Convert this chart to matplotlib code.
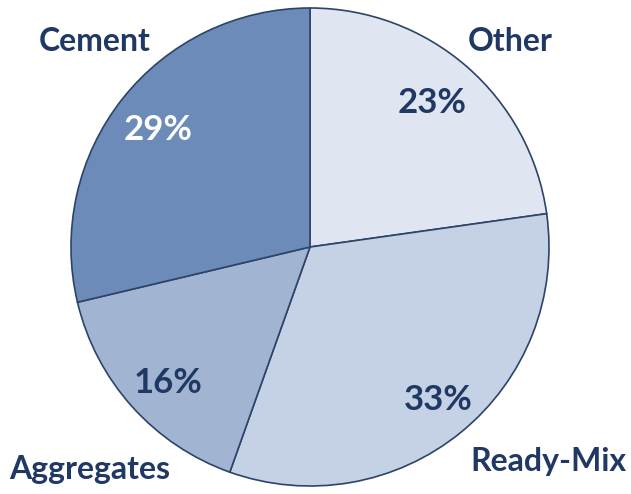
import matplotlib.pyplot as plt

categories = ['Other', 'Ready-Mix', 'Aggregates', 'Cement']
shares = [23, 33, 16, 29]
colors = ['#dfe6f1', '#c5d1e4', '#a1b4d2', '#6c8bb8']
pct_colors = ['#1f3864', '#1f3864', '#1f3864', 'white']

# label and percentage positions (pixels, y up)
label_pos = [(510, 452), (548, 32), (90, 24), (95, 452)]
pct_pos = [(432, 391), (438, 94), (168, 111), (158, 364)]

plt.rcParams['font.family'] = ['Lato', 'DejaVu Sans']

fig = plt.figure(figsize=(6.31, 4.94), dpi=100)
ax = fig.add_axes([0, 0, 1, 1])

ax.pie(shares, colors=colors, startangle=90, counterclock=False,
       center=(310, 247), radius=239,
       wedgeprops=dict(edgecolor='#2b4468', linewidth=1.2))

for name, (x, y) in zip(categories, label_pos):
    ax.text(x, y, name, ha='center', va='center', fontsize=23,
            fontweight='bold', color='#1f3864')

for v, (x, y), c in zip(shares, pct_pos, pct_colors):
    ax.text(x, y, f'{v}%', ha='center', va='center', fontsize=25,
            fontweight='bold', color=c)

ax.set_xlim(0, 631)
ax.set_ylim(0, 494)
ax.set_aspect('equal')
ax.axis('off')

fig.savefig('out.png', dpi=100)
